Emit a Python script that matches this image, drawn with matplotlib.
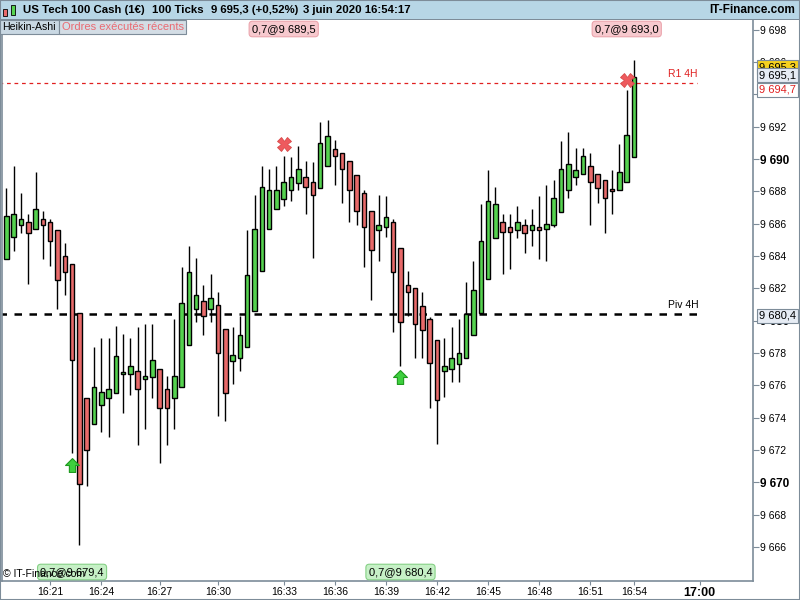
import matplotlib
matplotlib.use('Agg')
import matplotlib.pyplot as plt
from matplotlib.patches import Rectangle
from matplotlib.transforms import blended_transform_factory
import numpy as np

plt.rcParams['font.family'] = ['Liberation Sans', 'DejaVu Sans']

# Heikin-Ashi candles, 100 ticks each (open, high, low, close)
opens = [9683.8, 9685.2, 9685.9, 9686.1, 9685.7, 9686.3, 9686.1, 9685.6, 9684.0, 9683.5,
         9680.5, 9675.2, 9673.6, 9674.8, 9675.2, 9675.5, 9676.7, 9676.7, 9676.9, 9676.4,
         9676.5, 9677.0, 9675.8, 9675.2, 9675.9, 9678.5, 9680.7, 9681.2, 9680.7, 9681.0,
         9679.5, 9677.5, 9677.7, 9678.4, 9680.6, 9683.1, 9685.7, 9686.9, 9687.5, 9688.1,
         9688.5, 9688.9, 9688.6, 9688.2, 9689.6, 9690.6, 9690.4, 9689.9, 9689.0, 9687.9,
         9686.8, 9685.6, 9685.8, 9686.1, 9684.5, 9682.2, 9682.0, 9680.9, 9680.1, 9678.8,
         9676.9, 9677.0, 9677.3, 9677.7, 9679.1, 9680.5, 9682.6, 9685.1, 9686.1, 9685.8,
         9685.6, 9685.9, 9685.6, 9685.8, 9685.7, 9685.9, 9686.7, 9688.1, 9688.9, 9689.1,
         9689.6, 9689.1, 9688.7, 9688.1, 9688.1, 9688.6, 9690.1]
highs = [9688.2, 9689.6, 9687.9, 9686.6, 9689.2, 9686.8, 9686.3, 9685.6, 9684.8, 9683.5,
         9680.5, 9675.2, 9678.4, 9678.9, 9678.9, 9679.7, 9679.2, 9678.9, 9679.6, 9679.8,
         9679.8, 9677.0, 9676.6, 9680.1, 9683.3, 9684.6, 9683.9, 9682.2, 9682.9, 9681.8,
         9679.5, 9679.6, 9680.3, 9685.6, 9687.8, 9689.6, 9689.4, 9689.6, 9690.2, 9690.1,
         9690.8, 9689.9, 9689.8, 9692.3, 9692.4, 9691.2, 9690.4, 9689.9, 9689.0, 9688.1,
         9686.8, 9687.8, 9687.7, 9686.3, 9684.5, 9683.1, 9682.0, 9681.8, 9680.2, 9678.8,
         9678.9, 9679.6, 9680.1, 9682.4, 9683.7, 9687.2, 9689.3, 9688.3, 9686.6, 9686.6,
         9687.1, 9686.3, 9686.9, 9687.7, 9688.4, 9688.7, 9691.1, 9691.7, 9690.7, 9690.7,
         9690.4, 9689.1, 9688.7, 9689.3, 9690.9, 9694.3, 9696.1]
lows = [9683.8, 9684.3, 9685.4, 9682.3, 9685.7, 9683.8, 9683.4, 9680.7, 9681.6, 9671.8,
        9666.1, 9669.8, 9673.6, 9673.1, 9672.8, 9675.5, 9674.3, 9675.4, 9672.3, 9673.3,
        9675.2, 9671.2, 9672.3, 9673.3, 9675.9, 9678.5, 9679.9, 9679.1, 9679.9, 9674.1,
        9673.8, 9676.1, 9676.9, 9678.4, 9680.6, 9683.1, 9685.7, 9686.9, 9687.1, 9687.4,
        9688.1, 9686.6, 9683.9, 9688.2, 9689.6, 9688.4, 9687.3, 9686.1, 9685.9, 9683.3,
        9681.3, 9683.7, 9685.2, 9679.3, 9677.2, 9680.3, 9677.7, 9677.7, 9674.6, 9672.4,
        9675.3, 9676.2, 9676.2, 9677.7, 9679.1, 9680.5, 9682.6, 9685.1, 9682.9, 9683.2,
        9685.1, 9684.2, 9684.6, 9683.8, 9683.7, 9685.8, 9686.7, 9687.6, 9688.4, 9689.1,
        9685.9, 9687.3, 9685.4, 9686.6, 9688.1, 9688.6, 9690.1]
closes = [9686.5, 9686.6, 9686.3, 9685.4, 9686.9, 9685.9, 9684.9, 9682.5, 9683.0, 9677.6,
          9669.9, 9672.0, 9675.9, 9675.6, 9675.8, 9677.8, 9676.8, 9677.2, 9675.8, 9676.6,
          9677.6, 9674.6, 9674.6, 9676.6, 9681.1, 9683.0, 9681.6, 9680.3, 9681.4, 9678.0,
          9675.5, 9677.9, 9679.1, 9682.8, 9685.7, 9688.3, 9688.1, 9688.1, 9688.6, 9688.9,
          9689.4, 9688.3, 9687.8, 9691.0, 9691.4, 9690.2, 9689.4, 9688.1, 9686.8, 9685.8,
          9684.4, 9685.9, 9686.4, 9683.0, 9679.9, 9681.8, 9679.8, 9679.4, 9677.4, 9675.1,
          9677.2, 9677.7, 9678.0, 9680.4, 9681.9, 9684.9, 9687.4, 9687.2, 9685.5, 9685.5,
          9686.1, 9685.4, 9685.9, 9685.6, 9686.0, 9687.6, 9689.4, 9689.7, 9689.3, 9690.2,
          9688.6, 9688.2, 9687.6, 9688.0, 9689.2, 9691.5, 9695.1]

# time labels of the tick chart (candle index where the minute starts)
time_pos = [6, 13, 21, 29, 38, 45, 52, 59, 66, 73, 80, 86, 95]
time_labels = ['16:21', '16:24', '16:27', '16:30', '16:33', '16:36', '16:39',
               '16:42', '16:45', '16:48', '16:51', '16:54', '17:00']

# executed orders
sell_idx = [38, 85]
sell_y = [9690.9, 9694.9]
sell_txt = ['0,7@9 689,5', '0,7@9 693,0']
buy_idx = [9, 54]
buy_y = [9671.1, 9676.5]
buy_txt = ['0,7@9 679,4', '0,7@9 680,4']

r1 = 9694.7
piv = 9680.4
last_price = 9695.3

green = '#55d24f'
red = '#e86a6a'
frame = '#7d8c99'

W, H = 800, 600
fig = plt.figure(figsize=(8, 6), dpi=100)
fig.patch.set_facecolor('white')

def fx(x):
    return x / W

def fy(y):
    return 1 - y / H

# main chart area
left, right, top, bot = 2, 753, 20, 581
ax = fig.add_axes([fx(left), fy(bot), fx(right - left), (bot - top) / H])
ax.set_facecolor('white')

idx = np.arange(len(opens))
o = np.array(opens)
c = np.array(closes)
hi = np.array(highs)
lo = np.array(lows)
up = c >= o
cols = np.where(up, green, red)

ax.vlines(idx, lo, hi, color='black', lw=1.0, zorder=2)
body_h = np.maximum(np.abs(c - o), 0.12)
ax.bar(idx, body_h, bottom=np.minimum(o, c), width=0.62, color=cols,
       edgecolor='black', linewidth=1.0, zorder=3)

# pivot lines
ax.hlines(r1, -1, 94.6, colors='#e02020', linestyles=(0, (3, 3)), lw=0.9, zorder=1)
ax.hlines(piv, -1, 94.6, colors='black', linestyles=(0, (3, 3)), lw=1.8, zorder=1)
ax.text(92.7, r1 + 0.25, 'R1 4H', color='#e02020', fontsize=7.5, ha='center', va='bottom')
ax.text(92.7, piv + 0.25, 'Piv 4H', color='black', fontsize=7.5, ha='center', va='bottom')

# orders markers
ax.plot(sell_idx, sell_y, 'X', ms=10, color='#ee5a5e', mec='#d94a4a', mew=0.6, zorder=5)
arrow = [(0, 1), (-1, 0), (-0.45, 0), (-0.45, -1), (0.45, -1), (0.45, 0), (1, 0), (0, 1)]
ax.plot(buy_idx, buy_y, ls='none', marker=arrow, ms=10, color='#3ecf3e', mec='#1e9a1e',
        mew=0.8, zorder=5)

trans = blended_transform_factory(ax.transData, ax.transAxes)
for i, t in zip(sell_idx, sell_txt):
    ax.text(i, 1 - 9 / (bot - top), t, transform=trans, ha='center', va='center',
            fontsize=8, zorder=6,
            bbox=dict(boxstyle='round,pad=0.25,rounding_size=0.3', fc='#f7c9ce', ec='#eba5ad', lw=0.8))
for i, t in zip(buy_idx, buy_txt):
    ax.text(i, 9 / (bot - top), t, transform=trans, ha='center', va='center',
            fontsize=8, zorder=6,
            bbox=dict(boxstyle='round,pad=0.25,rounding_size=0.3', fc='#c6f0c6', ec='#85d085', lw=0.8))

ax.set_xlim(-0.6, 102.3)
ax.set_ylim(9663.9, 9698.6)

# axes: right prices and bottom times
yt = np.arange(9666, 9699, 2)
ax.yaxis.tick_right()
ax.set_yticks(yt)
ax.set_yticklabels(['9 %03d' % (v - 9000) for v in yt], fontsize=7.5)
for lab, v in zip(ax.get_yticklabels(), yt):
    if v % 10 == 0:
        lab.set_fontweight('bold')
        lab.set_fontsize(8.5)
ax.tick_params(axis='y', direction='out', length=4, pad=1, color=frame)
ax.set_xticks(time_pos)
ax.set_xticklabels(time_labels, fontsize=7.5)
ax.get_xticklabels()[-1].set_fontweight('bold')
ax.get_xticklabels()[-1].set_fontsize(9)
ax.tick_params(axis='x', direction='out', length=3, pad=1, color=frame)
for s in ax.spines.values():
    s.set_color(frame)
    s.set_linewidth(1.2)
ax.spines['top'].set_visible(False)

# price boxes on the right axis (later ones drawn over earlier ones)
def price_box(y, txt, fc, ec, tc):
    fig.text(fx(759), fy(y), txt, ha='left', va='center', fontsize=8, color=tc, zorder=10,
             bbox=dict(boxstyle='square,pad=0.15', fc=fc, ec=ec, lw=0.8))

price_box(67, '9 695,3', '#f5d11e', '#7d8c99', 'black')
price_box(75, '9 695,1', '#e6ecf4', '#7d8c99', 'black')
price_box(90, '9 694,7', 'white', '#7d8c99', '#e02020')
price_box(316, '9 680,4', '#e6ecf4', '#7d8c99', 'black')

# header bar
fig.add_artist(Rectangle((0, fy(19)), 1, 19 / H, transform=fig.transFigure,
                         fc='#b7d6e6', ec='none', zorder=0))
fig.add_artist(Rectangle((0, fy(20)), 1, 1.2 / H, transform=fig.transFigure,
                         fc=frame, ec='none', zorder=0))
# small candle icon
fig.add_artist(Rectangle((fx(3), fy(16)), 4 / W, 7 / H, transform=fig.transFigure,
                         fc=red, ec='black', lw=0.6))
fig.add_artist(Rectangle((fx(11), fy(15)), 4 / W, 10 / H, transform=fig.transFigure,
                         fc=green, ec='black', lw=0.6))
hdr = [(23, 'US Tech 100 Cash (1€)'), (152, '100 Ticks'), (211, '9 695,3 (+0,52%)'),
       (303, '3 juin 2020 16:54:17')]
for x, t in hdr:
    fig.text(fx(x), fy(10), t, fontsize=8.2, fontweight='bold', ha='left', va='center')
fig.text(fx(795), fy(10), 'IT-Finance.com', fontsize=8.5, fontweight='bold', ha='right', va='center')

# indicator tabs
fig.add_artist(Rectangle((0, fy(34)), 59 / W, 14 / H, transform=fig.transFigure,
                         fc='#c9d8e3', ec=frame, lw=0.8, zorder=8))
fig.text(fx(2), fy(27), 'Heikin-Ashi', fontsize=7.6, ha='left', va='center', zorder=9)
fig.add_artist(Rectangle((fx(59), fy(34)), 127 / W, 14 / H, transform=fig.transFigure,
                         fc='#d3dde5', ec=frame, lw=0.8, zorder=8))
fig.text(fx(62), fy(27), 'Ordres exécutés récents', fontsize=8, color='#ea6a72',
         ha='left', va='center', zorder=9)

fig.text(fx(3), fy(574), '© IT-Finance.com', fontsize=7.5, ha='left', va='center', zorder=11)

# outer frame
fig.add_artist(Rectangle((0, 0), 1, 1, transform=fig.transFigure, fc='none', ec=frame, lw=1.5))

fig.savefig('out.png', dpi=100)
